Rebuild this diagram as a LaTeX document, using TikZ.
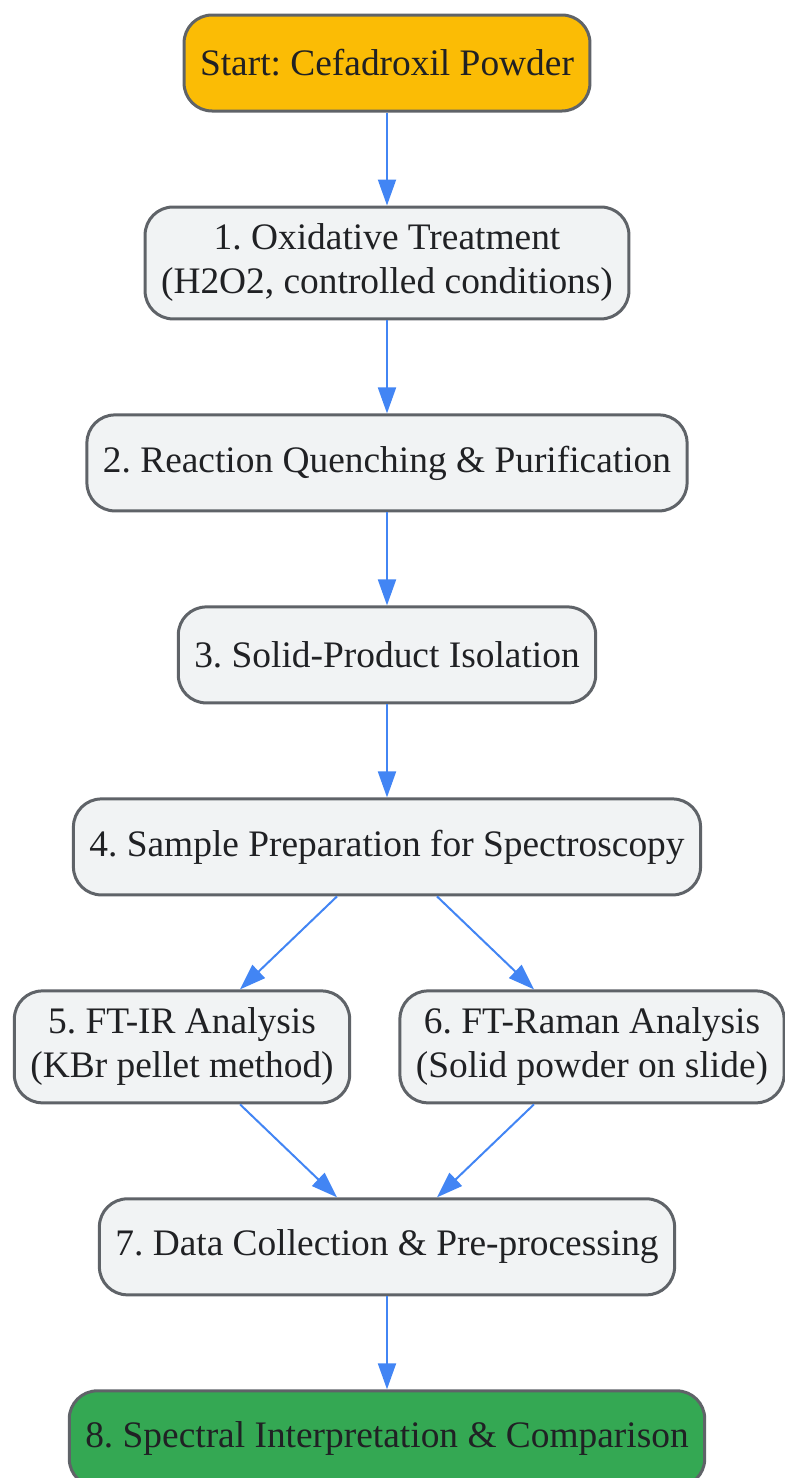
\documentclass[tikz,border=0pt]{standalone}
\usepackage{fontspec}
\setmainfont{Liberation Serif}
\usetikzlibrary{positioning,arrows.meta}
\definecolor{boxgray}{HTML}{F1F3F4}
\definecolor{edgegray}{HTML}{5F6368}
\definecolor{flowblue}{HTML}{4285F4}
\definecolor{startyellow}{HTML}{FBBC05}
\definecolor{endgreen}{HTML}{34A853}
\definecolor{textdark}{HTML}{202124}
\frenchspacing
\begin{document}
\begin{tikzpicture}[font=\fontsize{18.7}{22}\selectfont, node distance={46.5pt}, text=textdark,
    box/.style = {draw=edgegray, line width=1.5pt, fill=boxgray, rounded corners=14pt, align=center, minimum height=48pt, inner xsep=8pt, inner ysep=8.5pt},
    startbox/.style = {box, fill=startyellow},
    endbox/.style = {box, fill=endgreen},
    flow/.style = {-{Triangle[length=13pt,width=9pt]}, draw=flowblue, line width=1pt}]
    \useasboundingbox (-193.5pt,31.5pt) rectangle (198.5pt,-707.5pt);
    \node[startbox] (s0) {Start: Cefadroxil Powder};
    \node[box] (s1) [below=of s0] {1. Oxidative Treatment\\(H2O2, controlled conditions)};
    \node[box] (s2) [below=of s1] {2. Reaction Quenching \& Purification};
    \node[box] (s3) [below=of s2] {3. Solid-Product Isolation};
    \node[box] (s4) [below=of s3] {4. Sample Preparation for Spectroscopy};
    \node[box] (s5) [below=of s4, xshift=-102.5pt] {5. FT-IR Analysis\\(KBr pellet method)};
    \node[box] (s6) [below=of s4, xshift=102.5pt] {6. FT-Raman Analysis\\(Solid powder on slide)};
    \node[box] (s7) [below=of s5, xshift=102.5pt] {7. Data Collection \& Pre-processing};
    \node[endbox] (s8) [below=of s7] {8. Spectral Interpretation \& Comparison};
    \draw[flow] (s0) -- (s1);
    \draw[flow] (s1) -- (s2);
    \draw[flow] (s2) -- (s3);
    \draw[flow] (s3) -- (s4);
    \draw[flow] ([xshift=-25pt]s4.south) -- ([xshift=29pt]s5.north);
    \draw[flow] ([xshift=25pt]s4.south) -- ([xshift=-29pt]s6.north);
    \draw[flow] ([xshift=29pt]s5.south) -- ([xshift=-25pt]s7.north);
    \draw[flow] ([xshift=-29pt]s6.south) -- ([xshift=25pt]s7.north);
    \draw[flow] (s7) -- (s8);
\end{tikzpicture}
\end{document}
